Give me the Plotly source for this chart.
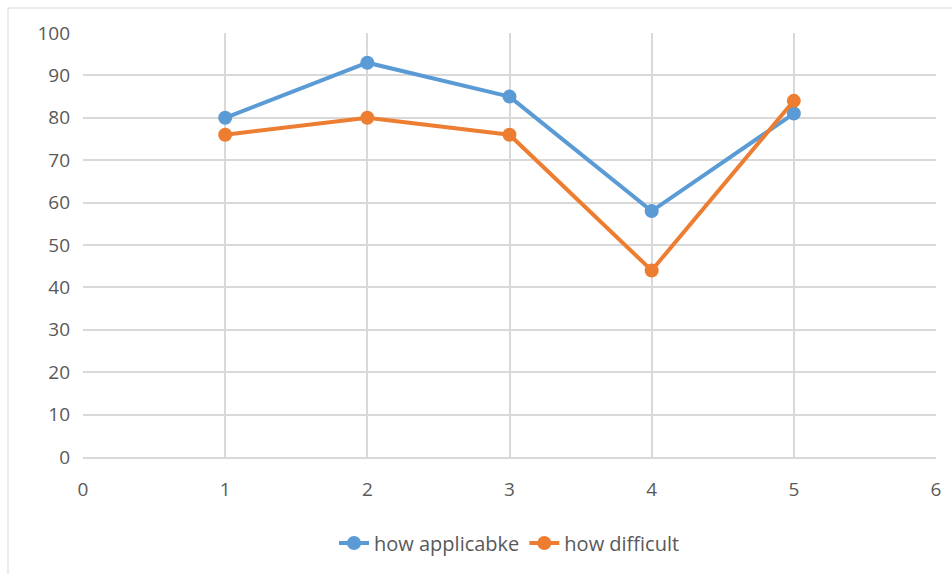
import plotly.graph_objects as go

# Survey scores per item
items = [1, 2, 3, 4, 5]
how_applicable = [80, 93, 85, 58, 81]
how_difficult = [76, 80, 76, 44, 84]

x_ticks = [0, 1, 2, 3, 4, 5, 6]
y_ticks = [0, 10, 20, 30, 40, 50, 60, 70, 80, 90, 100]

BLUE = "#5B9BD5"
ORANGE = "#ED7D31"
TEXT = "#595959"
GRID = "#D9D9D9"

fig = go.Figure()
fig.add_trace(go.Scatter(
    x=items, y=how_applicable, name="how applicabke",
    mode="lines+markers",
    line=dict(color=BLUE, width=4),
    marker=dict(color=BLUE, size=14),
))
fig.add_trace(go.Scatter(
    x=items, y=how_difficult, name="how difficult",
    mode="lines+markers",
    line=dict(color=ORANGE, width=4),
    marker=dict(color=ORANGE, size=14),
))

fig.update_layout(
    width=952, height=574,
    margin=dict(l=83, r=16, t=33, b=117),
    paper_bgcolor="white", plot_bgcolor="white",
    font=dict(family="Open Sans", size=19, color=TEXT),
    showlegend=True,
    legend=dict(orientation="h", x=0.5, xanchor="center", y=-0.203,
                yanchor="middle", font=dict(size=20, color=TEXT),
                itemwidth=30, tracegroupgap=0),
    xaxis=dict(range=[0, 6], tickvals=x_ticks, showgrid=True,
               gridcolor=GRID, gridwidth=2, zeroline=False,
               showline=True, linecolor=GRID, linewidth=2,
               ticks="", ticklabelstandoff=14),
    yaxis=dict(range=[0, 100], tickvals=y_ticks, showgrid=True,
               gridcolor=GRID, gridwidth=2, zeroline=False,
               showline=False, ticks="", ticklabelstandoff=12),
    shapes=[
        # chart area frame
        dict(type="rect", xref="paper", yref="paper",
             x0=(8 - 83) / 853, x1=1.1, y0=-0.4, y1=(457 - 8) / 424,
             line=dict(color="#D9D9D9", width=1), layer="below"),
    ],
)

fig.write_html("out.html")
